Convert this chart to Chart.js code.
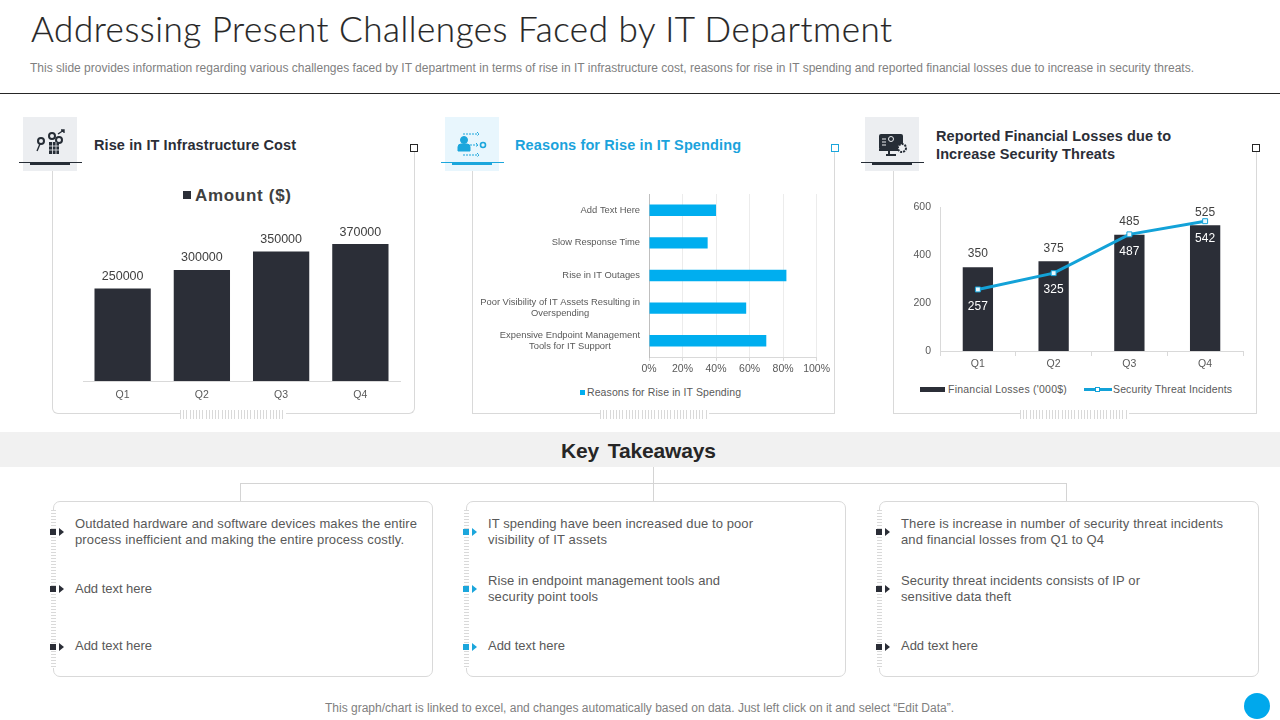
<!DOCTYPE html>
<html>
<head>
<meta charset="utf-8">
<title>Addressing Present Challenges Faced by IT Department</title>
<script src="https://cdn.jsdelivr.net/npm/chart.js@4"></script>
<style>
  html, body { margin: 0; padding: 0; background: #fff; }
  body { width: 1280px; height: 720px; position: relative; overflow: hidden; font-family: "Liberation Sans", Arial, sans-serif; color: #595959; }
  .t { position: absolute; white-space: nowrap; line-height: 16px; }
  .box { position: absolute; }
  canvas { position: absolute; }
  #title { left: 31px; top: 8px; font: 300 35px/40px Lato, sans-serif; color: #262626; -webkit-text-stroke: 0.2px #262626; }
  #sub { left: 30px; top: 60px; font-size: 12px; color: #7f7f7f; }
  #rule { left: 0; top: 93px; width: 1280px; height: 1px; background: #262626; }
  .frame { top: 147px; height: 267px; border: 1px solid #d9d9d9; border-top: none; border-radius: 0 0 6px 6px; box-sizing: border-box; }
  .sq { top: 144px; width: 6px; height: 6px; border: 1px solid #262626; background: #fff; box-sizing: content-box; }
  .ticks { top: 410px; height: 9px; background: repeating-linear-gradient(90deg, #d9d9d9 0 1px, #fff 1px 3.2px); }
  .icon { top: 117px; width: 54px; height: 54px; background: #eceef1; }
  .uline { top: 162px; width: 63px; height: 1px; background: #262d36; }
  .ubar { top: 162px; width: 40px; height: 3px; background: #262d36; }
  .h { font-weight: bold; font-size: 14.5px; color: #2b2e37; line-height: 18px; }
  .card { top: 501px; height: 176px; border: 1px solid #d9d9d9; border-radius: 7px; box-sizing: border-box; background: #fff; }
  .strip { top: 510px; width: 5px; height: 158px; background: repeating-linear-gradient(180deg, #d9d9d9 0 1px, #fff 1px 3px); }
  .bsq { width: 6px; height: 6px; background: #2b2e37; }
  .btri { width: 0; height: 0; border-left: 5px solid #2b2e37; border-top: 4px solid transparent; border-bottom: 4px solid transparent; }
  .bl .bsq { background: #1ba6dc; }
  .bl .btri { border-left-color: #1ba6dc; }
  .c { font-size: 13px; color: #595959; }
  .conn { background: #d4d4d4; }
  .lg { font-size: 10.5px; color: #595959; }
</style>
</head>
<body>

<div class="t" id="title" data-w="861">Addressing Present Challenges Faced by IT Department</div>
<div class="t" id="sub" data-w="1164">This slide provides information regarding various challenges faced by IT department in terms of rise in IT infrastructure cost, reasons for rise in IT spending and reported financial losses due to increase in security threats.</div>
<div class="box" id="rule"></div>

<!-- panels -->
<div class="box frame" style="left:52px;width:363px"></div>
<div class="box frame" style="left:472px;width:363px;border-radius:0"></div>
<div class="box frame" style="left:893px;width:364px;border-radius:0"></div>
<div class="box sq" style="left:410px"></div>
<div class="box sq" style="left:831px;border-color:#1ba6dc"></div>
<div class="box sq" style="left:1252px"></div>
<div class="box ticks" style="left:180px;width:106px"></div>
<div class="box ticks" style="left:600px;width:109px"></div>
<div class="box ticks" style="left:1020px;width:109px"></div>

<div class="box icon" style="left:23px">
  <svg width="54" height="54" viewBox="0 0 54 54" fill="none" stroke="#262d36" stroke-width="1.4">
    <circle cx="18" cy="24" r="3" stroke-width="2"/><path d="M17 27l-3 7"/>
    <circle cx="29" cy="19" r="3" stroke-width="2"/><circle cx="36" cy="23" r="3" stroke-width="2"/>
    <path d="M35 17l6-4m-3 0h3v3"/>
    <rect x="26" y="25" width="10" height="12" fill="#262d36" stroke="none"/>
    <path d="M26 29h10M26 33h10M29.500 25v12M33 25v12" stroke="#eceef1" stroke-width="0.8"/>
  </svg>
</div>
<div class="box uline" style="left:19px"></div><div class="box ubar" style="left:30px"></div>

<div class="box icon" style="left:445px;background:#e8f6fd">
  <svg width="54" height="54" viewBox="0 0 54 54" fill="none" stroke="#1ba6dc" stroke-width="1">
    <circle cx="19" cy="23" r="3.500" fill="#1ba6dc"/><path d="M13 34v-4q0-3 3-3h6q3 0 3 3v4z" fill="#1ba6dc"/>
    <path d="M18 17h16m-2-2l2 2-2 2M25 28h8m-2-2l2 2-2 2M18 38h16m-2-2l2 2-2 2" stroke-dasharray="2 1"/>
    <circle cx="38" cy="28" r="2.500" stroke-width="1.600"/>
  </svg>
</div>
<div class="box uline" style="left:441px;background:#1ba6dc"></div><div class="box ubar" style="left:452px;background:#1ba6dc"></div>

<div class="box icon" style="left:865px">
  <svg width="54" height="54" viewBox="0 0 54 54" fill="none">
    <rect x="14" y="17" width="24" height="16" rx="2" fill="#262d36"/>
    <path d="M14 33h24M24 34v4M21 38h10" stroke="#262d36" stroke-width="2"/>
    <circle cx="26" cy="22" r="2.500" stroke="#eceef1"/><path d="M17 22h4M17 25h4M17 28h4" stroke="#eceef1"/>
    <circle cx="37" cy="31" r="4" fill="#eceef1" stroke="#262d36" stroke-width="2" stroke-dasharray="2 1"/>
  </svg>
</div>
<div class="box uline" style="left:861px"></div><div class="box ubar" style="left:872px"></div>

<div class="t h" style="left:94px;top:136px" data-w="202">Rise in IT Infrastructure Cost</div>
<div class="t h" style="left:515px;top:136px;color:#1ba3dc" data-w="226">Reasons for Rise in IT Spending</div>
<div class="t h" style="left:936px;top:127px" data-w="235">Reported Financial Losses due to</div>
<div class="t h" style="left:936px;top:145px" data-w="179">Increase Security Threats</div>

<!-- charts -->
<canvas id="costChart" style="left:62px;top:225px;width:350px;height:180px"></canvas>
<canvas id="spendChart" style="left:472px;top:185px;width:360px;height:195px"></canvas>
<canvas id="lossChart" style="left:905px;top:192px;width:345px;height:183px"></canvas>

<!-- legends, text comes from the datasets -->
<div class="box" style="left:183px;top:191px;width:8px;height:8px;background:#2b2e37"></div>
<div class="t" id="costLegend" style="left:195px;top:188px;font-weight:bold;font-size:17px;color:#404040" data-w="96"></div>
<div class="box" style="left:580px;top:390px;width:5px;height:5px;background:#00aeef"></div>
<div class="t lg" id="spendLegend" style="left:587px;top:384px" data-w="154"></div>
<div class="box" style="left:920px;top:387px;width:25px;height:5px;background:#2b2e37"></div>
<div class="t lg" id="lossLegend0" style="left:948px;top:381px" data-w="119"></div>
<div class="box" style="left:1084px;top:388px;width:28px;height:3px;background:#13a2d8"></div>
<div class="box" style="left:1095px;top:387px;width:3px;height:3px;background:#fff;border:1px solid #13a2d8"></div>
<div class="t lg" id="lossLegend1" style="left:1113px;top:381px" data-w="119"></div>

<!-- key takeaways -->
<div class="box" style="left:0;top:432px;width:1280px;height:35px;background:#f1f1f1"></div>
<div class="t" style="left:561px;top:439px;font-weight:bold;font-size:21px;word-spacing:3px;line-height:24px;color:#262626" data-w="155">Key Takeaways</div>

<div class="box conn" style="left:240px;top:483px;width:827px;height:1px"></div>
<div class="box conn" style="left:240px;top:483px;width:1px;height:18px"></div>
<div class="box conn" style="left:1066px;top:483px;width:1px;height:18px"></div>
<div class="box conn" style="left:653px;top:467px;width:1px;height:34px"></div>

<div class="box card" style="left:53px;width:380px"></div>
<div class="box card" style="left:466px;width:380px"></div>
<div class="box card" style="left:879px;width:380px"></div>
<div class="box strip" style="left:51px"></div>
<div class="box strip" style="left:464px"></div>
<div class="box strip" style="left:877px"></div>

<div id="bullets"></div>

<div class="t c" style="left:75px;top:516px" data-w="342">Outdated hardware and software devices makes the entire</div>
<div class="t c" style="left:75px;top:532px" data-w="329">process inefficient and making the entire process costly.</div>
<div class="t c" style="left:75px;top:581px" data-w="77">Add text here</div>
<div class="t c" style="left:75px;top:638px" data-w="77">Add text here</div>

<div class="t c" style="left:488px;top:516px" data-w="265">IT spending have been increased due to poor</div>
<div class="t c" style="left:488px;top:532px" data-w="119">visibility of IT assets</div>
<div class="t c" style="left:488px;top:573px" data-w="232">Rise in endpoint management tools and</div>
<div class="t c" style="left:488px;top:589px" data-w="110">security point tools</div>
<div class="t c" style="left:488px;top:638px" data-w="77">Add text here</div>

<div class="t c" style="left:901px;top:516px" data-w="322">There is increase in number of security threat incidents</div>
<div class="t c" style="left:901px;top:532px" data-w="203">and financial losses from Q1 to Q4</div>
<div class="t c" style="left:901px;top:573px" data-w="239">Security threat incidents consists of IP or</div>
<div class="t c" style="left:901px;top:589px" data-w="110">sensitive data theft</div>
<div class="t c" style="left:901px;top:638px" data-w="77">Add text here</div>

<div class="t" style="left:325px;top:700px;font-size:12px;color:#808080" data-w="629">This graph/chart is linked to excel, and changes automatically based on data. Just left click on it and select “Edit Data”.</div>
<div class="box" style="left:1244px;top:693px;width:26px;height:26px;border-radius:50%;background:#00a8ec"></div>

<script>
// --- DATA ---
const quarters = ['Q1', 'Q2', 'Q3', 'Q4'];
const costName = 'Amount ($)';
const costValues = [250000, 300000, 350000, 370000];

const spendName = 'Reasons for Rise in IT Spending';
const spendLabels = [
    'Add Text Here',
    'Slow Response Time',
    'Rise in IT Outages',
    ['Poor Visibility of IT Assets Resulting in', 'Overspending'],
    ['Expensive Endpoint Management', 'Tools for IT Support']
];
const spendValues = [40, 35, 82, 58, 70];
const spendTicks = [0, 20, 40, 60, 80, 100];

const lossName = "Financial Losses  ('000$)";
const lossValues = [350, 375, 485, 525];
const threatName = 'Security Threat Incidents';
const threatValues = [257, 325, 487, 542];

const dark = '#2b2e37';
const blue = '#00aeef';
const lineBlue = '#13a2d8';
const axisGrey = '#d9d9d9';
const tickFont = { family: '"Liberation Sans"', size: 10.5 };

Chart.defaults.animation = false;
Chart.defaults.responsive = false;
Chart.defaults.font.family = '"Liberation Sans"';
Chart.defaults.color = '#595959';

// numbers next to the marks, placed from the library's own elements
const valueLabels = {
    id: 'valueLabels',
    afterDatasetsDraw(chart) {
        const ctx = chart.ctx;
        chart.data.datasets.forEach((ds, i) => {
            if (ds.labelOffset === undefined) return;
            ctx.save();
            ctx.font = ds.labelSize + 'px "Liberation Sans"';
            ctx.fillStyle = ds.labelColor;
            ctx.textAlign = 'center';
            ctx.textBaseline = 'middle';
            chart.getDatasetMeta(i).data.forEach((el, j) => {
                ctx.fillText(ds.data[j], el.x, el.y + ds.labelOffset);
            });
            ctx.restore();
        });
    }
};

// category labels of the horizontal chart, each block centred on itself
const blockLabels = {
    id: 'blockLabels',
    afterDraw(chart) {
        const ctx = chart.ctx;
        const scale = chart.scales.y;
        const right = chart.chartArea.left - 9;
        ctx.save();
        ctx.font = '9.400px "Liberation Sans"';
        ctx.fillStyle = '#595959';
        ctx.textAlign = 'center';
        ctx.textBaseline = 'middle';
        spendLabels.forEach((label, i) => {
            const lines = Array.isArray(label) ? label : [label];
            const widest = Math.max(...lines.map(l => ctx.measureText(l).width));
            const y = scale.getPixelForValue(i);
            lines.forEach((l, k) => {
                ctx.fillText(l, right - widest / 2, y + (k - (lines.length - 1) / 2) * 10.5);
            });
        });
        ctx.restore();
    }
};

new Chart(document.getElementById('costChart'), {
    type: 'bar',
    data: {
        labels: quarters,
        datasets: [{
            label: costName, data: costValues, backgroundColor: dark,
            categoryPercentage: 1, barPercentage: 0.71,
            labelOffset: -12, labelColor: '#404040', labelSize: 12.5
        }]
    },
    options: {
        layout: { padding: { left: 21, right: 12, top: 8 } },
        plugins: { legend: { display: false }, tooltip: { enabled: false } },
        scales: {
            x: {
                grid: { display: false, drawTicks: false },
                border: { color: axisGrey },
                ticks: { font: tickFont, padding: 8 },
                afterFit: s => { s.height = 24; }
            },
            y: { display: false, min: 0, max: 400000 }
        }
    },
    plugins: [valueLabels]
});

new Chart(document.getElementById('spendChart'), {
    type: 'bar',
    data: {
        labels: spendLabels,
        datasets: [{
            label: spendName, data: spendValues, backgroundColor: blue,
            categoryPercentage: 1, barPercentage: 0.35
        }]
    },
    options: {
        indexAxis: 'y',
        layout: { padding: { top: 9, right: 7 } },
        plugins: { legend: { display: false }, tooltip: { enabled: false } },
        scales: {
            x: {
                min: 0, max: 100,
                afterBuildTicks: s => { s.ticks = spendTicks.map(v => ({ value: v })); },
                grid: { color: '#ececec', tickColor: axisGrey, tickLength: 4 },
                border: { color: axisGrey },
                ticks: { font: tickFont, padding: 2, maxRotation: 0, callback: v => v + '%' },
                afterFit: s => { s.height = 23; }
            },
            y: {
                grid: { display: false, drawTicks: false },
                border: { color: '#bfbfbf' },
                ticks: { display: false },
                afterFit: s => { s.width = 177; }
            }
        }
    },
    plugins: [blockLabels]
});

new Chart(document.getElementById('lossChart'), {
    type: 'bar',
    data: {
        labels: quarters,
        datasets: [
            {
                type: 'line', label: threatName, data: threatValues,
                borderColor: lineBlue, borderWidth: 3, tension: 0,
                pointStyle: 'rect', pointRadius: 3.5, pointBackgroundColor: '#e8f8ff',
                pointBorderColor: lineBlue, pointBorderWidth: 1,
                labelOffset: 17, labelColor: '#ffffff', labelSize: 12, order: 1
            },
            {
                label: lossName, data: lossValues, backgroundColor: dark,
                categoryPercentage: 1, barPercentage: 0.4,
                labelOffset: -13, labelColor: '#404040', labelSize: 12, order: 2
            }
        ]
    },
    options: {
        layout: { padding: { top: 8, right: 7 } },
        plugins: { legend: { display: false }, tooltip: { enabled: false } },
        scales: {
            x: {
                grid: { drawOnChartArea: false, color: axisGrey, tickLength: 5 },
                border: { color: axisGrey },
                ticks: { font: tickFont, padding: 2 },
                afterFit: s => { s.height = 24; }
            },
            y: {
                min: 0, max: 600,
                grid: { display: false, drawTicks: false },
                border: { color: axisGrey },
                ticks: { font: tickFont, stepSize: 200, padding: 9 },
                afterFit: s => { s.width = 35; }
            }
        }
    },
    plugins: [valueLabels]
});

document.getElementById('costLegend').textContent = costName;
document.getElementById('spendLegend').textContent = spendName;
document.getElementById('lossLegend0').textContent = lossName;
document.getElementById('lossLegend1').textContent = threatName;

// bullets on the left edge of the cards
const bullets = document.getElementById('bullets');
[50, 463, 876].forEach((x, n) => {
    [532, 589, 647].forEach(y => {
        const wrap = document.createElement('div');
        if (n === 1) wrap.className = 'bl';
        wrap.innerHTML = `<div class="box bsq" style="left:${x}px;top:${y - 3}px"></div><div class="box btri" style="left:${x + 9}px;top:${y - 4}px"></div>`;
        bullets.appendChild(wrap);
    });
});

// stretch each text line to the width it has in the slide
document.querySelectorAll('[data-w]').forEach(el => {
    const gaps = el.textContent.length - 1;
    const now = el.getBoundingClientRect().width;
    el.style.letterSpacing = ((Number(el.dataset.w) - now) / gaps) + 'px';
});
</script>
</body>
</html>
